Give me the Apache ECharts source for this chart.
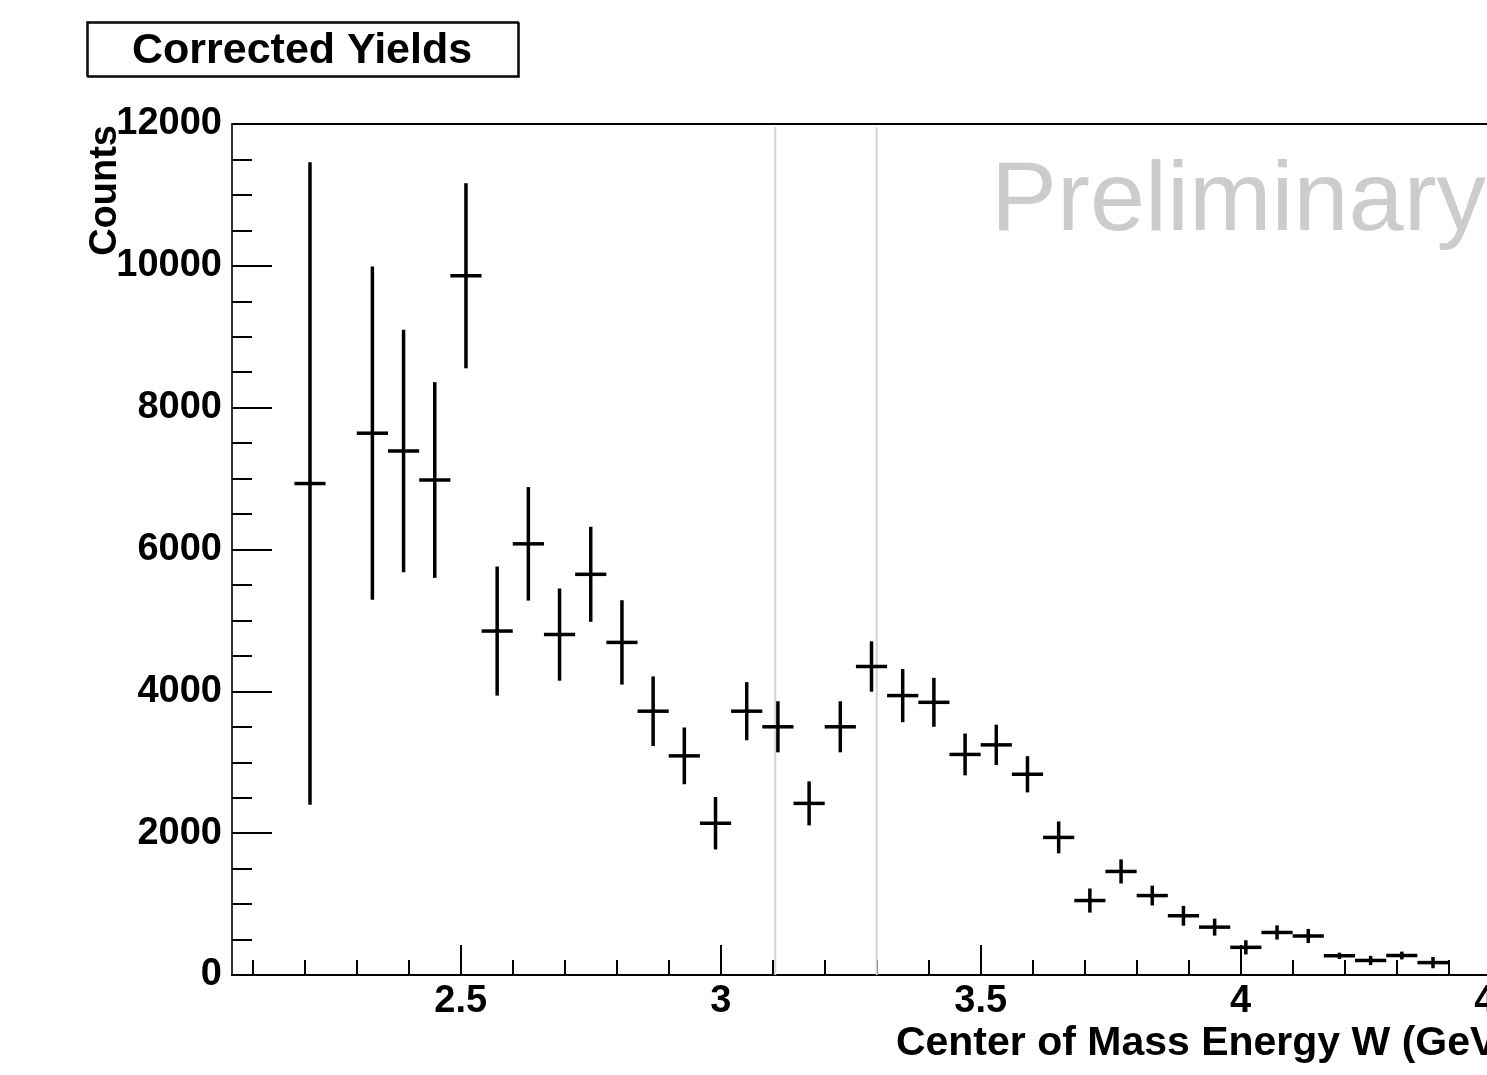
<!DOCTYPE html>
<html>
<head>
<meta charset="utf-8">
<script src="https://cdn.jsdelivr.net/npm/echarts@6/dist/echarts.min.js"></script>
<style>
  html, body { margin: 0; padding: 0; background: #fff; }
  #eChart { width: 1487px; height: 1075px; }
</style>
</head>
<body>
<div id="eChart"></div>
<script>
// bin centres (GeV), corrected yields and their errors
const energyW = [2.21, 2.33, 2.39, 2.45, 2.51, 2.57, 2.63, 2.69, 2.75, 2.81, 2.87, 2.93,
  2.99, 3.05, 3.11, 3.17, 3.23, 3.29, 3.35, 3.41, 3.47, 3.53, 3.59, 3.65,
  3.71, 3.77, 3.83, 3.89, 3.95, 4.01, 4.07, 4.13, 4.19, 4.25, 4.31, 4.37];
const counts = [6930, 7640, 7390, 6980, 9860, 4850, 6080, 4800, 5650, 4690, 3720, 3090,
  2140, 3720, 3500, 2420, 3500, 4350, 3940, 3845, 3110, 3245, 2830, 1940,
  1050, 1460, 1120, 835, 675, 390, 600, 550, 270, 205, 275, 175];
const countErrors = [4530, 2350, 1710, 1380, 1305, 910, 800, 650, 670, 595, 490, 400,
  370, 410, 360, 310, 360, 355, 375, 345, 295, 285, 255, 225,
  170, 170, 140, 140, 120, 100, 100, 100, 45, 65, 55, 80];
const binWidth = 0.06;
const refLines = [3.105, 3.3];

const xMinorTicks = [2.1, 2.2, 2.3, 2.4, 2.5, 2.6, 2.7, 2.8, 2.9, 3.0, 3.1, 3.2, 3.3,
  3.4, 3.5, 3.6, 3.7, 3.8, 3.9, 4.0, 4.1, 4.2, 4.3, 4.4, 4.5];
const xMajorTicks = [2.5, 3, 3.5, 4, 4.5];

const FONT = "Liberation Sans";
const xRange = { min: 2.06, max: 4.52 };

const gridBox = { left: 232, top: 124, width: 1279, height: 851 };

const opts = {
  animation: false,
  backgroundColor: "#fff",
  title: {
    text: "Corrected Yields",
    left: 87,
    top: 22,
    padding: [6, 46, 2, 45],
    borderColor: "#000",
    borderWidth: 1.5,
    shadowColor: "#000",
    shadowOffsetX: 1,
    shadowOffsetY: 1,
    textStyle: {
      fontFamily: FONT,
      fontWeight: "bold",
      fontSize: 43,
      lineHeight: 46,
      color: "#000",
    },
  },
  grid: [
    { ...gridBox, show: true, borderColor: "#000", borderWidth: 2, outerBoundsMode: "none", containLabel: false },
    { ...gridBox, show: false, outerBoundsMode: "none", containLabel: false },
  ],
  xAxis: [
    {
      type: "value",
      gridIndex: 0,
      ...xRange,
      axisLine: { show: true, lineStyle: { color: "#000", width: 2 } },
      axisTick: {
        show: true,
        inside: true,
        length: 15,
        customValues: xMinorTicks,
        lineStyle: { color: "#000", width: 2 },
      },
      axisLabel: { show: false },
      splitLine: { show: false },
    },
    {
      type: "value",
      gridIndex: 1,
      ...xRange,
      axisLine: { show: false },
      axisTick: {
        show: true,
        inside: true,
        length: 30,
        customValues: xMajorTicks,
        lineStyle: { color: "#000", width: 2 },
      },
      axisLabel: {
        show: true,
        customValues: xMajorTicks,
        margin: 8,
        fontFamily: FONT,
        fontWeight: "bold",
        fontSize: 38,
        color: "#000",
      },
      splitLine: { show: false },
      name: "Center of Mass Energy W (GeV)",
      nameLocation: "end",
      nameGap: 0,
      nameMoveOverlap: false,
      nameTextStyle: {
        fontFamily: FONT,
        fontWeight: "bold",
        fontSize: 41,
        color: "#000",
        align: "right",
        verticalAlign: "top",
        padding: [48, 0, 0, 0],
      },
    },
  ],
  yAxis: [
    {
      type: "value",
      gridIndex: 0,
      min: 0,
      max: 12000,
      interval: 2000,
      axisLine: { show: true, lineStyle: { color: "#333", width: 2 } },
      axisTick: { show: true, inside: true, length: 40, lineStyle: { color: "#000", width: 2 } },
      minorTick: { show: true, splitNumber: 4, length: 20, lineStyle: { color: "#000", width: 2 } },
      axisLabel: {
        margin: 10,
        fontFamily: FONT,
        fontWeight: "bold",
        fontSize: 38,
        color: "#000",
        formatter: (v) => String(v),
      },
      splitLine: { show: false },
      minorSplitLine: { show: false },
    },
    { type: "value", gridIndex: 1, min: 0, max: 12000, show: false },
  ],
  graphic: [
    {
      type: "text",
      x: 106,
      y: 125,
      rotation: Math.PI / 2,
      style: {
        text: "Counts",
        font: `bold 38px "${FONT}"`,
        fill: "#000",
        align: "right",
        verticalAlign: "middle",
      },
    },
    {
      type: "text",
      x: 991,
      y: 203,
      z: -1,
      style: {
        text: "Preliminary",
        font: `normal 99px "${FONT}"`,
        fill: "#cccccc",
        align: "left",
        verticalAlign: "middle",
      },
    },
  ],
  series: [
    {
      name: "ref lines",
      type: "custom",
      xAxisIndex: 0,
      yAxisIndex: 0,
      z: 1,
      silent: true,
      data: refLines.map((x) => [x]),
      renderItem: function (params, api) {
        const x = api.value(0);
        const p0 = api.coord([x, 0]);
        const p1 = api.coord([x, 12000]);
        return {
          type: "line",
          shape: { x1: p0[0], y1: p0[1], x2: p1[0], y2: p1[1] + 3 },
          style: { stroke: "#d4d4d4", lineWidth: 2 },
        };
      },
    },
    {
      name: "Corrected Yields",
      type: "custom",
      xAxisIndex: 0,
      yAxisIndex: 0,
      z: 2,
      data: energyW.map((w, i) => [w, counts[i], countErrors[i]]),
      renderItem: function (params, api) {
        const x = api.value(0);
        const y = api.value(1);
        const e = api.value(2);
        const top = api.coord([x, y + e]);
        const bot = api.coord([x, y - e]);
        const left = api.coord([x - binWidth / 2, y]);
        const right = api.coord([x + binWidth / 2, y]);
        const st = { stroke: "#000", lineWidth: 3.5 };
        return {
          type: "group",
          children: [
            { type: "line", shape: { x1: top[0], y1: top[1], x2: bot[0], y2: bot[1] }, style: st },
            { type: "line", shape: { x1: left[0], y1: left[1], x2: right[0], y2: right[1] }, style: st },
          ],
        };
      },
    },
  ],
};

const myChart = echarts.init(document.getElementById("eChart"), null, { renderer: "canvas" });
myChart.setOption(opts);
</script>
</body>
</html>
